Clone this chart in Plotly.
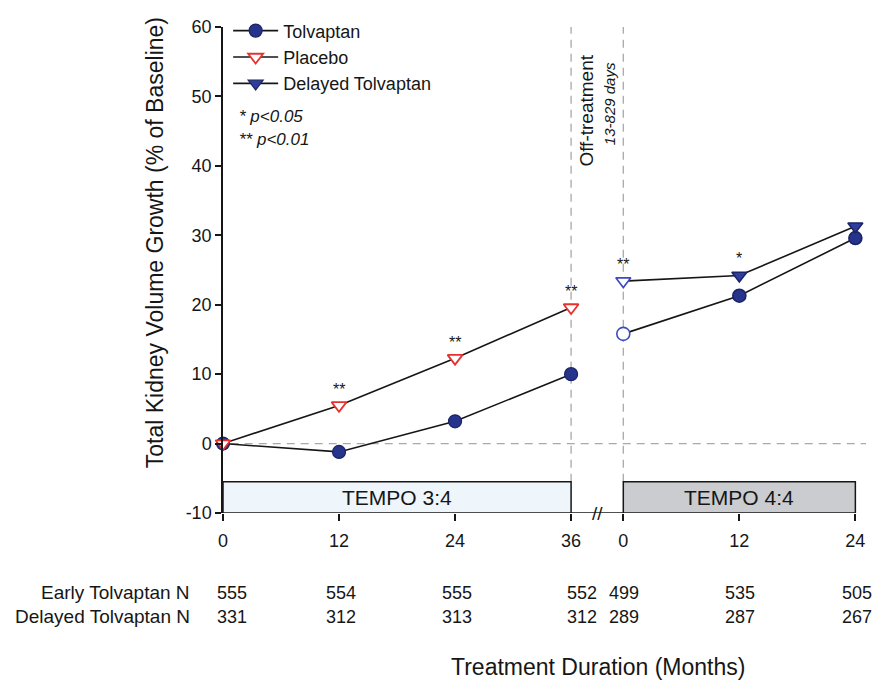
import plotly.graph_objects as go

# ---------------- data ----------------
months_phase1 = [0, 12, 24, 36]
months_phase2 = [0, 12, 24]
tolvaptan_p1 = [0.0, -1.2, 3.2, 10.0]
placebo_p1 = [0.0, 5.5, 12.3, 19.6]
tolvaptan_p2 = [15.8, 21.3, 29.6]
delayed_p2 = [23.4, 24.2, 31.3]
sig_placebo = ["", "**", "**", "**"]
sig_delayed = ["**", "*", ""]
n_early = [555, 554, 555, 552, 499, 535, 505]
n_delayed = [331, 312, 313, 312, 289, 287, 267]
phase_labels = ["TEMPO 3:4", "TEMPO 4:4"]
y_ticks = [-10, 0, 10, 20, 30, 40, 50, 60]

# ---------------- layout constants ----------------
OFFSET = 41.4          # where TEMPO 4:4 month 0 sits on the shared axis
XMAX = 66.5
YMIN, YMAX = -10, 60
BOX_TOP = -5.5
FONT = "Liberation Sans, Arial, Helvetica, sans-serif"
NAVY = "#27348b"
NAVY_DARK = "#1b2466"
BLUE = "#2e3d9e"
RED = "#e8312f"
GREY = "#a9a9a9"
INK = "#161616"

x_p2 = [m + OFFSET for m in months_phase2]
tickvals = months_phase1 + x_p2
ticktext = [str(m) for m in months_phase1] + [str(m) for m in months_phase2]

fig = go.Figure()

line_style = dict(color=INK, width=1.6)
MS = 13

fig.add_trace(go.Scatter(
    x=months_phase1, y=tolvaptan_p1, mode="lines+markers", name="Tolvaptan",
    line=line_style, cliponaxis=False,
    marker=dict(symbol="circle", size=MS, color=NAVY, line=dict(color=NAVY_DARK, width=1.2)),
))
fig.add_trace(go.Scatter(
    x=months_phase1, y=placebo_p1, mode="lines+markers", name="Placebo",
    line=line_style, cliponaxis=False,
    marker=dict(symbol="triangle-down", size=MS, color="white", line=dict(color=RED, width=1.8)),
))
fig.add_trace(go.Scatter(
    x=[None], y=[None], mode="lines+markers", name="Delayed Tolvaptan",
    line=line_style,
    marker=dict(symbol="triangle-down", size=MS, color=BLUE, line=dict(color=NAVY_DARK, width=1.2)),
))
fig.add_trace(go.Scatter(
    x=x_p2, y=tolvaptan_p2, mode="lines+markers", showlegend=False,
    line=line_style, cliponaxis=False,
    marker=dict(symbol="circle", size=MS, color=["white", NAVY, NAVY],
                line=dict(color=["#3b4cc0", NAVY_DARK, NAVY_DARK], width=1.6)),
))
fig.add_trace(go.Scatter(
    x=x_p2, y=delayed_p2, mode="lines+markers", showlegend=False,
    line=line_style, cliponaxis=False,
    marker=dict(symbol="triangle-down", size=MS, color=["white", BLUE, BLUE],
                line=dict(color=["#3b4cc0", NAVY_DARK, NAVY_DARK], width=1.6)),
))

shapes = []
dash = "8px,6px"
# reference dashed lines
shapes.append(dict(type="line", xref="x", yref="y", x0=0.8, x1=XMAX, y0=0, y1=0,
                   line=dict(color=GREY, width=1.3, dash=dash), layer="below"))
for xv in [months_phase1[-1], x_p2[0]]:
    shapes.append(dict(type="line", xref="x", yref="y", x0=xv, x1=xv, y0=BOX_TOP, y1=YMAX,
                       line=dict(color=GREY, width=1.3, dash=dash), layer="below"))
# treatment phase boxes
shapes.append(dict(type="rect", xref="x", yref="y", x0=months_phase1[0], x1=months_phase1[-1],
                   y0=YMIN, y1=BOX_TOP, fillcolor="#eef5fb", line=dict(color=INK, width=1.5)))
shapes.append(dict(type="rect", xref="x", yref="y", x0=x_p2[0], x1=x_p2[-1],
                   y0=YMIN, y1=BOX_TOP, fillcolor="#cacccf", line=dict(color=INK, width=1.5)))
# baseline segment across the break
shapes.append(dict(type="line", xref="x", yref="y", x0=months_phase1[-1], x1=x_p2[0],
                   y0=YMIN, y1=YMIN, line=dict(color=INK, width=1.5)))

annotations = []


def note(**kw):
    base = dict(showarrow=False, xanchor="center", yanchor="middle")
    base.update(kw)
    annotations.append(base)


note(x=(months_phase1[0] + months_phase1[-1]) / 2, y=(YMIN + BOX_TOP) / 2, xref="x", yref="y",
     text=phase_labels[0], font=dict(size=21, color=INK))
note(x=(x_p2[0] + x_p2[-1]) / 2, y=(YMIN + BOX_TOP) / 2, xref="x", yref="y",
     text=phase_labels[1], font=dict(size=21, color=INK))
# axis break
note(x=(months_phase1[-1] + x_p2[0]) / 2, y=YMIN, xref="x", yref="y",
     text="//", font=dict(size=19, color=INK))

# significance markers
for xv, yv, s in zip(months_phase1, placebo_p1, sig_placebo):
    if s:
        note(x=xv, y=yv, xref="x", yref="y", text=s, yshift=16, font=dict(size=16, color=INK))
for xv, yv, s in zip(x_p2, delayed_p2, sig_delayed):
    if s:
        note(x=xv, y=yv, xref="x", yref="y", text=s, yshift=17, font=dict(size=16, color=INK))

# p-value key
note(x=0.021, y=0.8156, xref="paper", yref="paper", xanchor="left",
     text="<i>* p&lt;0.05</i>", font=dict(size=17, color=INK))
note(x=0.021, y=0.768, xref="paper", yref="paper", xanchor="left",
     text="<i>** p&lt;0.01</i>", font=dict(size=17, color=INK))

# off-treatment label
note(x=37.5, y=47.9, xref="x", yref="y", text="Off-treatment", textangle=-90,
     font=dict(size=19, color=INK))
note(x=40.0, y=49.0, xref="x", yref="y", text="<i>13-829 days</i>", textangle=-90,
     font=dict(size=15, color=INK))

# N table
row_y = [-0.164, -0.213]
note(x=-0.048, y=row_y[0], xref="paper", yref="paper", xanchor="right",
     text="Early Tolvaptan N", font=dict(size=19, color=INK))
note(x=-0.048, y=row_y[1], xref="paper", yref="paper", xanchor="right",
     text="Delayed Tolvaptan N", font=dict(size=19, color=INK))
n_shift = [9, 2, 2, 11, 1, 1, 2]
for xv, sh, a, b in zip(tickvals, n_shift, n_early, n_delayed):
    note(x=xv, y=row_y[0], xref="x", yref="paper", xshift=sh, text=str(a),
         font=dict(size=18, color=INK))
    note(x=xv, y=row_y[1], xref="x", yref="paper", xshift=sh, text=str(b),
         font=dict(size=18, color=INK))

# axis titles
note(x=0.583, y=-0.316, xref="paper", yref="paper",
     text="Treatment Duration (Months)", font=dict(size=23, color=INK))
note(x=-0.1058, y=0.557, xref="paper", yref="paper", textangle=-90,
     text="Total Kidney Volume Growth (% of Baseline)", font=dict(size=23, color=INK))

fig.update_layout(
    width=879, height=681,
    margin=dict(l=223, r=13, t=25, b=168),
    paper_bgcolor="white", plot_bgcolor="white",
    font=dict(family=FONT, color=INK),
    showlegend=True,
    legend=dict(x=0.008, y=1.03, xanchor="left", yanchor="top", bgcolor="rgba(0,0,0,0)",
                font=dict(size=18, color=INK), itemwidth=45, tracegroupgap=0),
    shapes=shapes, annotations=annotations,
    hovermode=False,
)
fig.update_xaxes(range=[0, XMAX], showgrid=False, zeroline=False, showline=False,
                 tickmode="array", tickvals=tickvals, ticktext=ticktext,
                 ticks="outside", ticklen=7, tickwidth=1.5, tickcolor=INK,
                 tickfont=dict(size=18, color=INK), ticklabelstandoff=4)
fig.update_yaxes(range=[YMIN, YMAX], showgrid=False, zeroline=False, showline=True,
                 linecolor=INK, linewidth=1.5,
                 tickmode="array", tickvals=y_ticks, ticktext=[str(v) for v in y_ticks],
                 ticks="outside", ticklen=6, tickwidth=1.5, tickcolor=INK,
                 tickfont=dict(size=18, color=INK))

fig.write_html("out.html")
